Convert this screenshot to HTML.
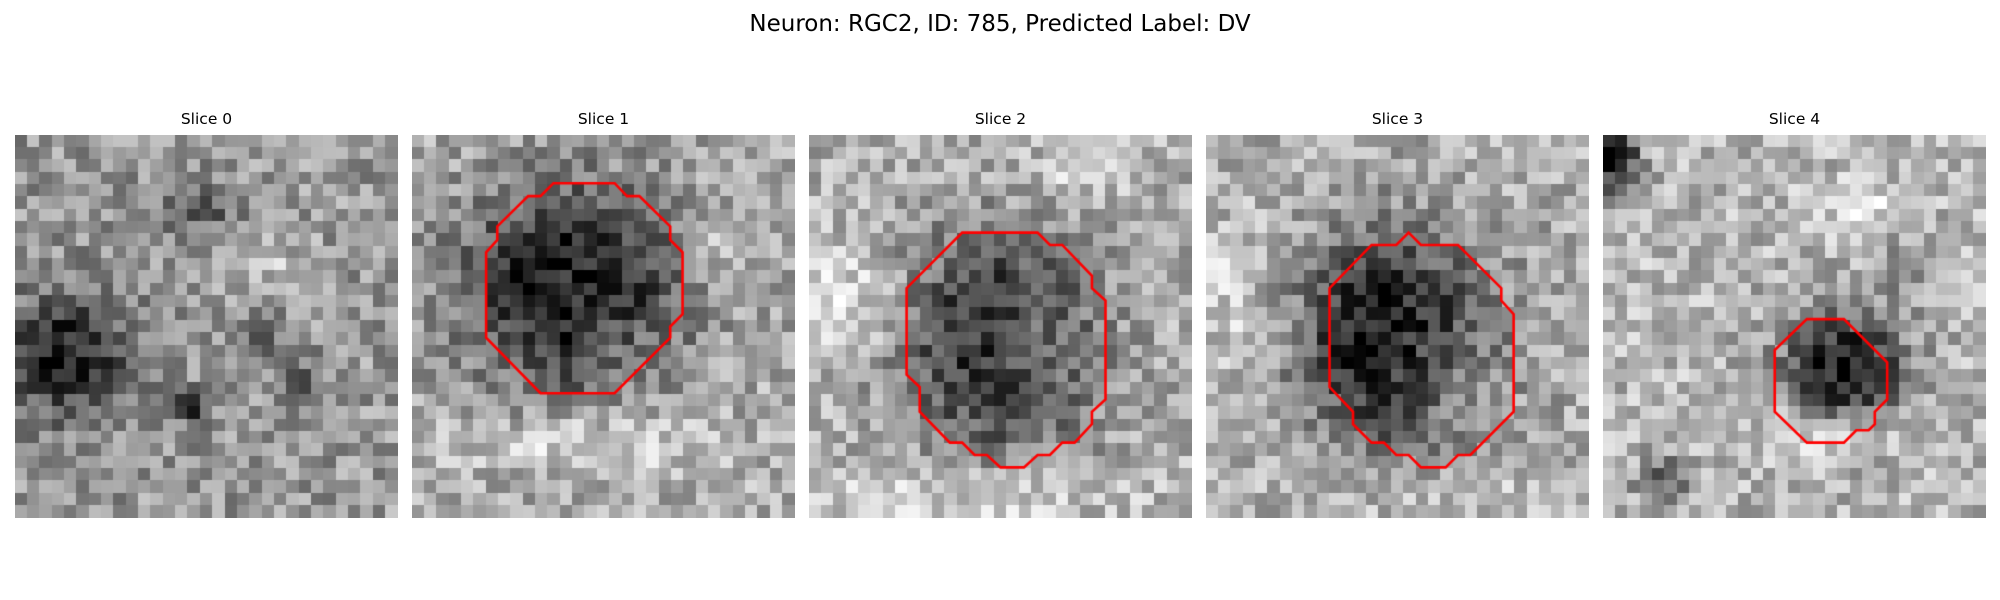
<!DOCTYPE html>
<html><head><meta charset="utf-8">
<style>
html,body{margin:0;padding:0;background:#fff;}
#fig{position:relative;width:2000px;height:600px;overflow:hidden;font-family:"DejaVu Sans","Liberation Sans",sans-serif;color:#000;}
#title{position:absolute;left:0;width:2000px;top:11px;text-align:center;font-size:23px;}
.st{position:absolute;width:383px;text-align:center;top:110px;font-size:15.5px;}
canvas{position:absolute;top:135px;}
</style></head>
<body>
<div id="fig">
<div id="title">Neuron: RGC2, ID: 785, Predicted Label: DV</div>
</div>
<script>
// Panel layout
const panelX = [15, 412, 809, 1206, 1603];
const sliceTitles = ["Slice 0","Slice 1","Slice 2","Slice 3","Slice 4"];
const N = 31;
// base gray per slice (0=black,1=white)
const baseGray = [0.60, 0.68, 0.70, 0.70, 0.72];
// dark/bright blobs per slice: [cx, cy, rx, ry, delta]
const blobs0 = [[4,18,5,4.5,-0.45],[20,16,1.2,1.5,-0.4],[14,22,1.5,1.2,-0.35],[23,20,1.5,1.5,-0.3],[15,6,3,2,-0.2],[20,10,3,2,0.15]];
const blobs1 = [[13,12.5,8.5,8,-0.55],[17,17,3,3,0.12],[14,25,10,2.2,0.2],[25,9,3,3,0.12]];
const blobs2 = [[15.5,17,7.5,8.5,-0.5],[19,17,2.5,3,0.2],[3,14,4,4,0.18],[14,29,10,2.5,0.18],[22,3,4,2,0.12]];
const blobs3 = [[15.5,17,7.5,8.5,-0.5],[13,14,4,5,-0.12],[20,20,3,4,0.15],[2,14,3,6,0.12],[17,29,10,2,0.1]];
const blobs4 = [[19.5,19,4.5,4,-0.6],[1,2,1.8,2.5,-0.55],[21,6,3,2,0.15],[24,11,2,2,-0.2],[18,24,5,2,0.15],[5,28,2,2,-0.3]];
const allBlobs = [blobs0, blobs1, blobs2, blobs3, blobs4];
// contour polygons (cell units)
const contour0 = [];
const contour1 = [[11.45,3.9],[16.4,3.9],[17.4,4.95],[18.4,4.95],[20.9,7.4],[20.9,8.5],[21.9,9.5],[21.9,14.5],[20.9,15.5],[20.9,16.4],[16.4,20.9],[10.4,20.9],[6,16.4],[6,9.5],[6.9,8.5],[6.9,7.4],[9.4,4.95],[10.4,4.95]];
const contour2 = [[12.4,7.9],[18.5,7.9],[19.5,8.9],[20.5,8.9],[22.9,11.4],[22.9,12.4],[24,13.4],[24,21.4],[22.9,22.4],[22.9,23.4],[21.5,24.9],[20.5,24.9],[19.5,25.9],[18.5,25.9],[17.4,26.9],[15.5,26.9],[14.4,25.9],[13.4,25.9],[12.4,24.9],[11.4,24.9],[8.96,22.4],[8.96,20.4],[7.9,19.4],[7.9,12.4]];
const contour3 = [[16.4,7.9],[17.4,8.9],[20.4,8.9],[23.9,12.4],[23.9,13.4],[24.9,14.5],[24.9,22.4],[21.4,25.9],[20.4,25.9],[19.4,26.9],[17.4,26.9],[16.4,25.9],[15.4,25.9],[14.4,24.9],[13.4,24.9],[11.9,23.4],[11.9,22.4],[10,20.4],[10,12.4],[13.4,8.9],[15.4,8.9]];
const contour4 = [[16.5,14.9],[19.5,14.9],[23,18.4],[23,21.4],[22,22.4],[22,23.4],[21.5,23.9],[20.5,23.9],[19.5,24.9],[16.5,24.9],[13.9,22.4],[13.9,17.4]];
const contours = [contour0, contour1, contour2, contour3, contour4];

const fig = document.getElementById('fig');
const PW = 383, cell = PW / N;
function sx(c){ return c * cell; }
function texture(p,i,j){ // deterministic image-grain texture
  let h = (p*7919 + i*374761393 + j*668265263) >>> 0;
  h = Math.imul(h ^ (h >>> 13), 1274126177) >>> 0;
  h = (h ^ (h >>> 16)) >>> 0;
  return (h % 1000) / 1000 - 0.5;
}
for (let p = 0; p < 5; p++) {
  const t = document.createElement('div');
  t.className = 'st';
  t.style.left = panelX[p] + 'px';
  t.textContent = sliceTitles[p];
  
  
  fig.appendChild(t);
  const cv = document.createElement('canvas');
  cv.width = PW; cv.height = PW;
  cv.style.left = panelX[p] + 'px';
  
  
  fig.appendChild(cv);
  const ctx = cv.getContext('2d');
  for (let j = 0; j < N; j++) for (let i = 0; i < N; i++) {
    let v = baseGray[p];
    for (const b of allBlobs[p]) {
      const dx = (i + 0.5 - b[0]) / b[2], dy = (j + 0.5 - b[1]) / b[3];
      const d = Math.sqrt(dx*dx + dy*dy);
      v += b[4] / (1 + Math.pow(d, 4));
    }
    v += texture(p, i, j) * 0.38;
    v = Math.max(0, Math.min(1, v));
    const g = Math.round(v * 255);
    ctx.fillStyle = 'rgb(' + g + ',' + g + ',' + g + ')';
    ctx.fillRect(Math.floor(sx(i)), Math.floor(sx(j)), Math.ceil(cell) + 1, Math.ceil(cell) + 1);
  }
  const poly = contours[p];
  if (poly.length) {
    ctx.strokeStyle = '#ff0000';
    ctx.lineWidth = 2.6;
    ctx.lineJoin = 'miter';
    ctx.beginPath();
    poly.forEach((pt, k) => { if (k === 0) ctx.moveTo(sx(pt[0]), sx(pt[1])); else ctx.lineTo(sx(pt[0]), sx(pt[1])); });
    ctx.closePath();
    ctx.stroke();
  }
}
</script>
</body></html>
